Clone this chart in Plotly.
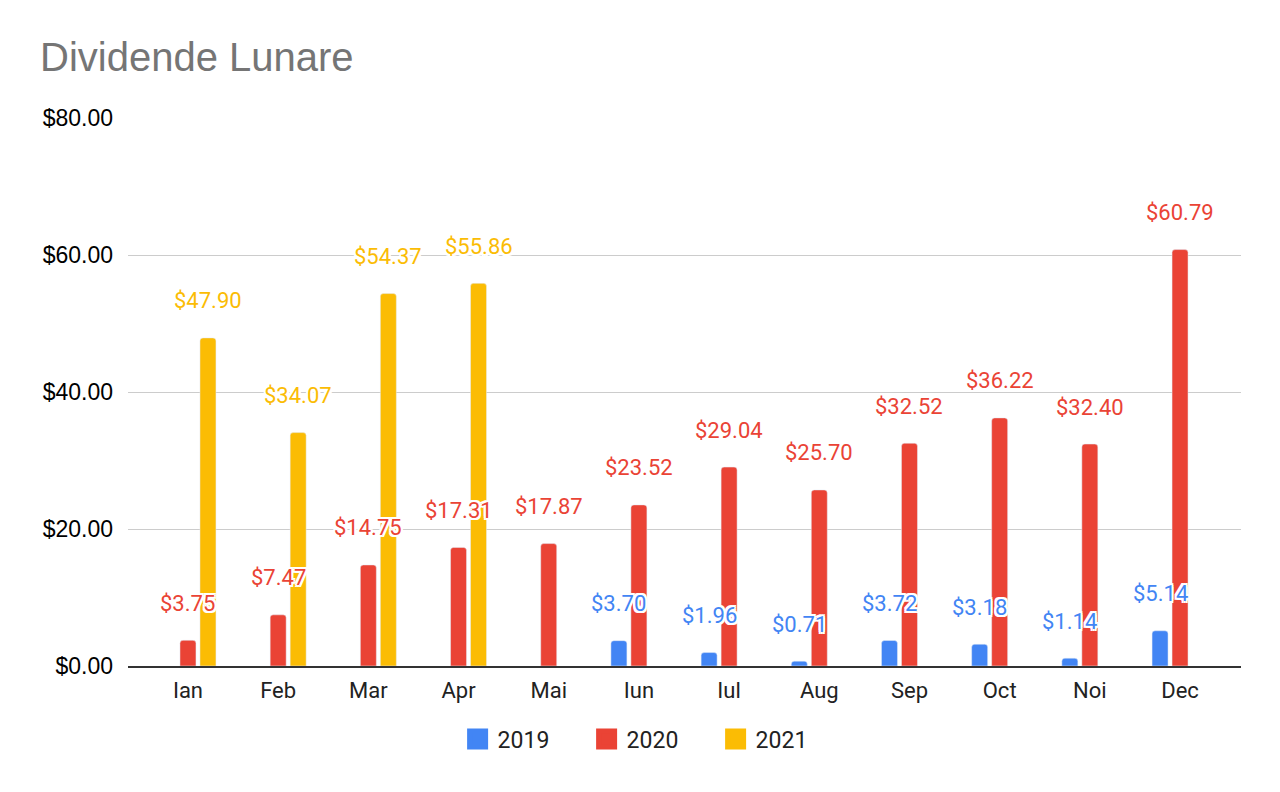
import plotly.graph_objects as go

# monthly dividends, None = nothing paid that month
months = ["Ian", "Feb", "Mar", "Apr", "Mai", "Iun", "Iul", "Aug", "Sep", "Oct", "Noi", "Dec"]
div_2019 = [None, None, None, None, None, 3.70, 1.96, 0.71, 3.72, 3.18, 1.14, 5.14]
div_2020 = [3.75, 7.47, 14.75, 17.31, 17.87, 23.52, 29.04, 25.70, 32.52, 36.22, 32.40, 60.79]
div_2021 = [47.90, 34.07, 54.37, 55.86, None, None, None, None, None, None, None, None]
y_ticks = [0, 20, 40, 60, 80]

series = [
    ("2019", div_2019, "#4285F4", -20),
    ("2020", div_2020, "#EA4335", 0),
    ("2021", div_2021, "#FBBC04", 20),
]

halo = ", ".join(f"{dx}px {dy}px 0 white" for dx, dy in
                 [(2, 0), (-2, 0), (0, 2), (0, -2), (2, 2), (-2, -2), (2, -2), (-2, 2)])

fig = go.Figure()
annotations = []
for name, vals, color, shift in series:
    fig.add_trace(go.Bar(x=months, y=vals, name=name, marker_color=color,
                         showlegend=False, hoverinfo="x+y"))
    # legend swatch (bigger than the default bar swatch)
    fig.add_trace(go.Scatter(x=[None], y=[None], mode="markers", name=name,
                             marker=dict(symbol="square", size=16, color=color,
                                         line=dict(width=5, color=color))))
    for m, v in zip(months, vals):
        if v is None:
            continue
        annotations.append(dict(x=m, y=v, xref="x", yref="y", text=f"${v:.2f}",
                                showarrow=False, xshift=shift, yshift=37,
                                font=dict(family="Roboto", size=22, color=color, shadow=halo)))

# page body has an 8px margin, so the figure is drawn 8px smaller
W, H = 1272, 784
fig.update_layout(
    width=W, height=H,
    paper_bgcolor="white", plot_bgcolor="white",
    margin=dict(l=120, r=39, t=110, b=126),
    title=dict(text="Dividende Lunare", x=32 / W, xanchor="left", xref="container",
               y=1 - 49 / H, yanchor="middle", yref="container",
               font=dict(family="Liberation Sans", size=40, color="#757575")),
    barmode="group", bargap=0.335, bargroupgap=0.2, barcornerradius=3,
    annotations=annotations,
    legend=dict(orientation="h", x=0.47, xanchor="center", y=-0.094, yanchor="top",
                font=dict(family="Roboto", size=23, color="#222222"),
                entrywidth=84, entrywidthmode="pixels", tracegroupgap=0),
    font=dict(family="Roboto", color="#222222"),
)
fig.update_xaxes(range=[-0.665, 11.676], showline=True, linecolor="#333333", linewidth=2,
                 showgrid=False, ticks="", ticklabelstandoff=4,
                 tickfont=dict(family="Roboto", size=22, color="#222222"))
fig.update_yaxes(range=[0, 80], tickvals=y_ticks, tickformat="$.2f",
                 showgrid=True, gridcolor="#cccccc", gridwidth=1, zeroline=False,
                 showline=False, ticks="", ticklabelstandoff=14,
                 tickfont=dict(family="Liberation Sans", size=23, color="#000000"))

fig.write_html("out.html")
